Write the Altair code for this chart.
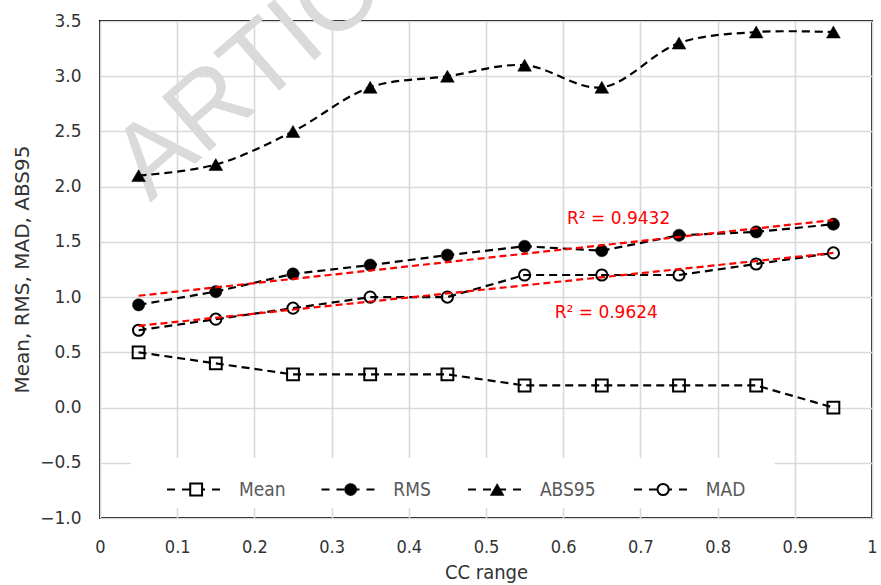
import altair as alt
import pandas as pd

# ---------------- data ----------------
cc_range = [0.05, 0.15, 0.25, 0.35, 0.45, 0.55, 0.65, 0.75, 0.85, 0.95]
mean_vals = [0.5, 0.4, 0.3, 0.3, 0.3, 0.2, 0.2, 0.2, 0.2, 0.0]
rms_vals = [0.93, 1.05, 1.21, 1.29, 1.38, 1.46, 1.42, 1.56, 1.59, 1.66]
abs95_vals = [2.1, 2.2, 2.5, 2.9, 3.0, 3.1, 2.9, 3.3, 3.4, 3.4]
mad_vals = [0.7, 0.8, 0.9, 1.0, 1.0, 1.2, 1.2, 1.2, 1.3, 1.4]
series_names = ["Mean", "RMS", "ABS95", "MAD"]
trend_series = ["RMS", "MAD"]
r2_texts = ["R\u00b2 = 0.9432", "R\u00b2 = 0.9624"]
x_ticks = [0, 0.1, 0.2, 0.3, 0.4, 0.5, 0.6, 0.7, 0.8, 0.9, 1]
y_ticks = [-1.0, -0.5, 0.0, 0.5, 1.0, 1.5, 2.0, 2.5, 3.0, 3.5]
watermark = "ARTICLE IN PRESS"

# ---------------- layout (annotation / legend placement) ----------------
r2_x = [0.605, 0.589]
r2_y = [1.71, 0.855]
legend_start = [0.0868, 0.2869, 0.4767, 0.6917]
legend_len = 0.0755
legend_gap = 0.0176
legend_y = -0.742
legend_box = (0.040, 0.874, -0.457, -0.91)

styles = {
    "Mean": dict(shape="square", filled=False, size=140, interp="linear"),
    "RMS": dict(shape="circle", filled=True, size=150, interp="linear"),
    "ABS95": dict(shape="triangle-up", filled=True, size=190, interp="catmull-rom"),
    "MAD": dict(shape="circle", filled=False, size=125, interp="linear"),
}

series_vals = {"Mean": mean_vals, "RMS": rms_vals, "ABS95": abs95_vals, "MAD": mad_vals}
rows = []
for s in series_names:
    for c, v in zip(cc_range, series_vals[s]):
        rows.append({"cc": c, "value": v, "series": s})
df = pd.DataFrame(rows)

X_SCALE = alt.Scale(domain=[0, 1], nice=False, zero=False)
Y_SCALE = alt.Scale(domain=[-1, 3.5], nice=False, zero=False)

x_axis = alt.Axis(
    values=x_ticks, format="~g", grid=True, gridColor="#d9d9d9", gridWidth=1.6,
    ticks=False, tickSize=0, domain=False, labelFlush=False, labelOverlap=False,
    labelFont="DejaVu Sans Condensed", labelFontSize=18, labelColor="#333333",
    labelPadding=20, titleFont="DejaVu Sans Condensed", titleFontSize=20,
    titleFontWeight="normal", titleColor="#333333", titlePadding=6,
)
y_axis = alt.Axis(
    values=y_ticks, format=".1f", grid=True, gridColor="#d9d9d9", gridWidth=1.6,
    ticks=False, tickSize=0, domain=False, labelOverlap=False,
    labelFont="DejaVu Sans", labelFontSize=17, labelColor="#333333",
    labelPadding=19, titleFont="DejaVu Sans", titleFontSize=20,
    titleFontWeight="normal", titleColor="#333333",
    titleX=-72, titleY=248, titleAngle=270, titleAlign="center", titleBaseline="alphabetic",
)


def xe(field="cc"):
    return alt.X(f"{field}:Q", scale=X_SCALE, axis=x_axis, title="CC range")


def ye(field="value"):
    return alt.Y(f"{field}:Q", scale=Y_SCALE, axis=y_axis, title="Mean, RMS, MAD, ABS95")


layers = []

# watermark
layers.append(
    alt.Chart(pd.DataFrame({"t": [watermark]})).mark_text(
        font="Liberation Sans", fontSize=105, color="#dadada", angle=319,
        align="left", baseline="alphabetic",
    ).encode(x=alt.value(50), y=alt.value(182), text="t:N")
)

# data lines
for s in series_names:
    layers.append(
        alt.Chart(df).transform_filter(alt.datum.series == s).mark_line(
            color="black", strokeWidth=2.2, strokeDash=[8, 5],
            interpolate=styles[s]["interp"],
        ).encode(x=xe(), y=ye())
    )

# markers
for s in series_names:
    st = styles[s]
    layers.append(
        alt.Chart(df).transform_filter(alt.datum.series == s).mark_point(
            shape=st["shape"], size=st["size"], filled=st["filled"],
            fill="black" if st["filled"] else "transparent",
            stroke="black", strokeWidth=2 if not st["filled"] else 0.5, opacity=1,
        ).encode(x=xe(), y=ye())
    )

# trend lines
layers.append(
    alt.Chart(df).transform_filter(
        alt.FieldOneOfPredicate(field="series", oneOf=trend_series)
    ).transform_regression("cc", "value", groupby=["series"]).mark_line(
        color="#ff0000", strokeWidth=2.2, strokeDash=[7, 4]
    ).encode(x=xe(), y=ye(), detail="series:N")
)

# R^2 annotations
r2_df = pd.DataFrame({"cc": r2_x, "value": r2_y, "label": r2_texts})
layers.append(
    alt.Chart(r2_df).mark_text(
        font="DejaVu Sans", fontSize=17, color="#ff0000", align="left", baseline="middle"
    ).encode(x=xe(), y=ye(), text="label:N")
)

# legend box
box_df = pd.DataFrame({"cc": [legend_box[0]], "cc2": [legend_box[1]],
                       "value": [legend_box[2]], "value2": [legend_box[3]]})
layers.append(
    alt.Chart(box_df).mark_rect(fill="white").encode(
        x=xe(), x2="cc2:Q", y=ye(), y2="value2:Q"
    )
)

leg_rows = []
for s, x0 in zip(series_names, legend_start):
    leg_rows.append({"series": s, "cc": x0, "cc2": x0 + legend_len,
                     "mid": x0 + legend_len / 2, "lab": x0 + legend_len + legend_gap,
                     "value": legend_y})
leg_df = pd.DataFrame(leg_rows)

layers.append(
    alt.Chart(leg_df).mark_rule(color="black", strokeWidth=2.2, strokeDash=[8, 7]).encode(
        x=xe(), x2="cc2:Q", y=ye()
    )
)
for s in series_names:
    st = styles[s]
    layers.append(
        alt.Chart(leg_df).transform_filter(alt.datum.series == s).mark_point(
            shape=st["shape"], size=st["size"], filled=st["filled"],
            fill="black" if st["filled"] else "white",
            stroke="black", strokeWidth=2 if not st["filled"] else 0.5, opacity=1,
        ).encode(x=xe("mid"), y=ye())
    )
layers.append(
    alt.Chart(leg_df).mark_text(
        font="DejaVu Sans Condensed", fontSize=19, color="#595959", align="left", baseline="middle"
    ).encode(x=xe("lab"), y=ye(), text="series:N")
)

chart = alt.layer(*layers).properties(
    width=772, height=497,
    autosize=alt.AutoSizeParams(type="none"),
    padding={"left": 100, "top": 21, "right": 9, "bottom": 67},
    background="white",
).configure_view(stroke="black", strokeWidth=2)

chart.save("out.html", embed_options={"renderer": "svg", "actions": False})
